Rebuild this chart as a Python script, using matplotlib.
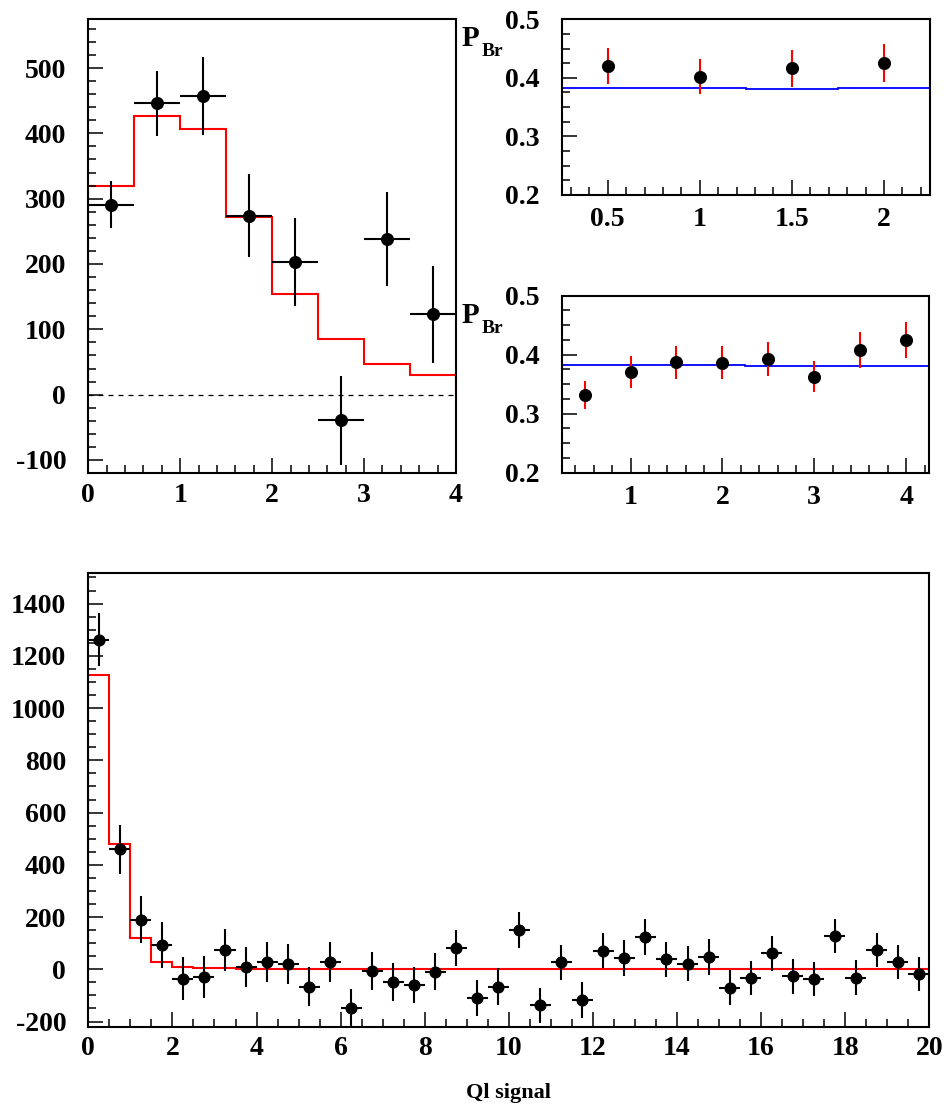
import numpy as np
import matplotlib
matplotlib.use("Agg")
from matplotlib import pyplot as plt
from matplotlib.ticker import MultipleLocator, FuncFormatter

plt.rcParams['font.family'] = ['Liberation Serif', 'DejaVu Serif']
plt.rcParams['font.weight'] = 'bold'
plt.rcParams['axes.unicode_minus'] = False

# top left: signal in 0.5 bins, 0..4
tl_x = [0.25, 0.75, 1.25, 1.75, 2.25, 2.75, 3.25, 3.75]
tl_y = [291, 446, 457, 274, 203, -39, 238, 123]
tl_err = [36, 50, 60, 64, 67, 68, 72, 74]
tl_edges = [0, 0.5, 1, 1.5, 2, 2.5, 3, 3.5, 4]
tl_fit = [320, 426, 407, 272, 154, 85, 47, 30]

# top right: P_Br vs bin (first set)
p1_x = [0.5, 1.0, 1.5, 2.0]
p1_y = [0.420, 0.402, 0.416, 0.425]
p1_err = [0.031, 0.030, 0.031, 0.032]
p1_edges = [0.25, 0.75, 1.25, 1.75, 2.25]
p1_line = [0.3825, 0.3825, 0.3815, 0.3825]

# middle right: P_Br vs bin (second set)
p2_x = [0.5, 1.0, 1.5, 2.0, 2.5, 3.0, 3.5, 4.0]
p2_y = [0.332, 0.371, 0.387, 0.386, 0.393, 0.363, 0.408, 0.425]
p2_err = [0.024, 0.027, 0.028, 0.028, 0.029, 0.027, 0.030, 0.031]
p2_edges = [0.25, 2.25, 4.25]
p2_line = [0.3825, 0.3808]

# bottom: full range 0..20
bt_y = [1262, 459, 189, 92, -36, -29, 73, 9, 28, 19,
        -66, 28, -149, -6, -48, -60, -10, 82, -110, -66,
        151, -138, 26, -117, 71, 42, 125, 38, 22, 48,
        -70, -34, 61, -26, -38, 128, -32, 74, 27, -18]
bt_err = [102, 95, 90, 88, 83, 81, 80, 77, 77, 76,
          73, 75, 73, 72, 72, 70, 71, 70, 69, 69,
          70, 68, 68, 68, 68, 69, 69, 67, 68, 68,
          67, 66, 66, 67, 66, 66, 66, 66, 65, 64]
bt_fit = [1127, 479, 119, 29, 10, 5, 3, 2, 2, 1,
          1, 1, 0, 0, 0, 0, 0, 0, 0, 0,
          0, 0, 0, 0, 0, 0, 0, 0, 0, 0,
          0, 0, 0, 0, 0, 0, 0, 0, 0, 0]
bt_edges = np.arange(0, 20.01, 0.5)
bt_x = bt_edges[:-1] + 0.25

fmt = FuncFormatter(lambda v, p: '%g' % v)
TICKFS = 20


def style(ax, xmaj, xmin, ymaj, ymin, xpad=7, ypad=16):
	ax.xaxis.set_major_locator(MultipleLocator(xmaj))
	ax.xaxis.set_minor_locator(MultipleLocator(xmin))
	ax.yaxis.set_major_locator(MultipleLocator(ymaj))
	ax.yaxis.set_minor_locator(MultipleLocator(ymin))
	ax.xaxis.set_major_formatter(fmt)
	ax.yaxis.set_major_formatter(fmt)
	ax.tick_params(which='both', direction='in', top=False, right=False, width=1.1)
	ax.tick_params(which='major', length=11)
	ax.tick_params(which='minor', length=5.5)
	ax.tick_params(axis='x', which='major', pad=xpad, labelsize=TICKFS)
	ax.tick_params(axis='y', which='major', pad=ypad, labelsize=TICKFS)
	for s in ax.spines.values():
		s.set_linewidth(1.5)


fig = plt.figure(figsize=(9.47, 11.13), dpi=100)

# top left
ax1 = fig.add_axes([0.0933, 0.575, 0.3882, 0.4079])
ax1.stairs(tl_fit, tl_edges, baseline=0, color='red', lw=1.5)
ax1.axhline(0, color='k', lw=0.9, ls=(0, (4, 4)))
ax1.errorbar(tl_x, tl_y, yerr=tl_err, xerr=0.25, fmt='o', color='k',
			 ms=8.4, elinewidth=1.5, capsize=0)
ax1.set_xlim(0, 4)
ax1.set_ylim(-120, 575)
style(ax1, 1, 0.2, 100, 20)

# top right
ax2 = fig.add_axes([0.5931, 0.8248, 0.3889, 0.1579])
ax2.stairs(p1_line, p1_edges, baseline=None, color='blue', lw=1.3)
ax2.errorbar(p1_x, p1_y, yerr=p1_err, fmt='o', color='k', ecolor='red',
			 ms=8.4, elinewidth=1.5, capsize=0)
ax2.set_xlim(0.25, 2.25)
ax2.set_ylim(0.2, 0.5)
style(ax2, 0.5, 0.1, 0.1, 0.025, xpad=9)

# middle right
ax3 = fig.add_axes([0.5931, 0.5753, 0.3880, 0.159])
ax3.stairs(p2_line, p2_edges, baseline=None, color='blue', lw=1.3)
ax3.errorbar(p2_x, p2_y, yerr=p2_err, fmt='o', color='k', ecolor='red',
			 ms=8.4, elinewidth=1.5, capsize=0)
ax3.set_xlim(0.25, 4.25)
ax3.set_ylim(0.2, 0.5)
style(ax3, 1, 0.2, 0.1, 0.025, xpad=9)

for ypos, ysub in [(0.9590, 0.9500), (0.7095, 0.7005)]:
	fig.text(0.4875, ypos, 'P', fontsize=21, fontweight='bold', va='baseline')
	fig.text(0.5085, ysub, 'Br', fontsize=14, fontweight='bold', va='baseline')

# bottom
ax4 = fig.add_axes([0.0933, 0.0775, 0.8880, 0.4074])
ax4.stairs(bt_fit, bt_edges, baseline=0, color='red', lw=1.5)
ax4.errorbar(bt_x, bt_y, yerr=bt_err, xerr=0.25, fmt='o', color='k',
			 ms=7.7, elinewidth=1.5, capsize=0)
ax4.set_xlim(0, 20)
ax4.set_ylim(-220, 1516)
style(ax4, 2, 0.5, 200, 50)

fig.text(0.537, 0.0135, 'Ql signal', fontsize=16, fontweight='bold',
		 ha='center', va='baseline')

fig.savefig('out.png', dpi=100)
